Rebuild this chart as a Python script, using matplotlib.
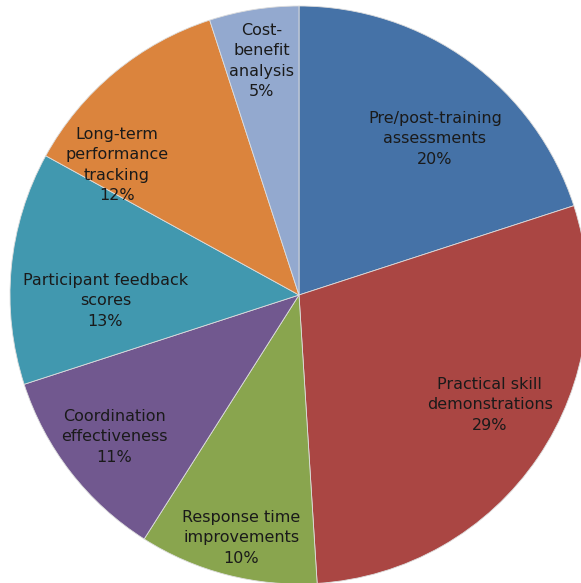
import matplotlib.pyplot as plt

categories = [
    "Pre/post-training\nassessments",
    "Practical skill\ndemonstrations",
    "Response time\nimprovements",
    "Coordination\neffectiveness",
    "Participant feedback\nscores",
    "Long-term\nperformance\ntracking",
    "Cost-\nbenefit\nanalysis",
]
shares = [20, 29, 10, 11, 13, 12, 5]
colors = ["#4572A7", "#AA4643", "#89A54E", "#71588F", "#4198AF", "#DB843D", "#93A9CF"]

# label centres, in pie radius units, relative to the pie centre
label_pos = [(0.47, 0.54), (0.66, -0.38), (-0.20, -0.84), (-0.64, -0.49),
             (-0.67, -0.02), (-0.63, 0.45), (-0.13, 0.81)]

W, H = 581, 583
cx, cy, R = 299, 295, 289

fig = plt.figure(figsize=(W / 100, H / 100), dpi=100)
ax = fig.add_axes([0, 0, 1, 1])

ax.pie(shares, colors=colors, startangle=90, counterclock=False,
       wedgeprops=dict(linewidth=0.6, edgecolor="#dddddd"))

for name, val, (x, y) in zip(categories, shares, label_pos):
    ax.text(x, y, f"{name}\n{val}%", ha="center", va="center",
            fontsize=11.5, color="#1a1a1a", linespacing=1.45,
            family="DejaVu Sans")

ax.set_xlim(-cx / R, (W - cx) / R)
ax.set_ylim(-(H - cy) / R, cy / R)
ax.set_aspect("equal")
ax.axis("off")

fig.savefig("out.png", dpi=100, facecolor="white")
